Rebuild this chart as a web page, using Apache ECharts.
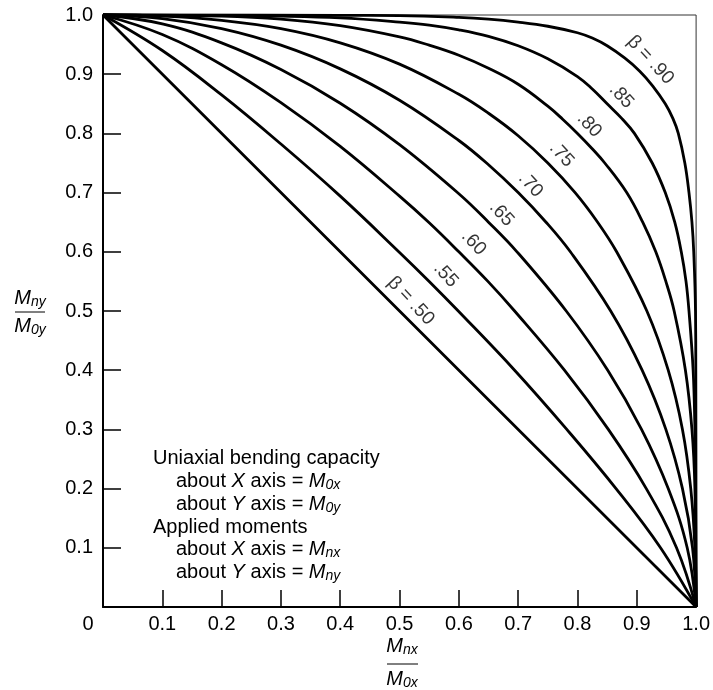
<!DOCTYPE html>
<html><head><meta charset="utf-8">
<script src="https://cdn.jsdelivr.net/npm/echarts@6/dist/echarts.min.js"></script>
<style>html,body{margin:0;padding:0;background:#fff}#c{width:713px;height:690px}</style>
</head><body><div id="c"></div>
<script>
// Curve values (x = Mnx/M0x, y = Mny/M0y)
const curve50 = [[0,1],[0.5,0.5],[1,0]];
const curve55 = [[0,1],[0.1,0.94],[0.2,0.865],[0.3,0.782],[0.4,0.694],[0.5,0.599],[0.55,0.55],[0.599,0.5],[0.694,0.4],[0.782,0.3],[0.865,0.2],[0.94,0.1],[1,0]];
const curve60 = [[0,1],[0.1,0.967],[0.2,0.916],[0.3,0.852],[0.4,0.778],[0.5,0.694],[0.55,0.649],[0.6,0.6],[0.649,0.55],[0.694,0.5],[0.778,0.4],[0.852,0.3],[0.916,0.2],[0.967,0.1],[1,0]];
const curve65 = [[0,1],[0.1,0.985],[0.2,0.953],[0.3,0.908],[0.4,0.851],[0.5,0.781],[0.6,0.698],[0.65,0.65],[0.698,0.6],[0.781,0.5],[0.851,0.4],[0.908,0.3],[0.953,0.2],[0.985,0.1],[1,0]];
const curve70 = [[0,1],[0.1,0.994],[0.2,0.977],[0.3,0.949],[0.4,0.909],[0.5,0.856],[0.6,0.788],[0.65,0.747],[0.7,0.7],[0.747,0.65],[0.788,0.6],[0.856,0.5],[0.909,0.4],[0.949,0.3],[0.977,0.2],[0.994,0.1],[1,0]];
const curve75 = [[0,1],[0.1,0.998],[0.2,0.991],[0.3,0.977],[0.4,0.953],[0.5,0.917],[0.6,0.866],[0.65,0.834],[0.7,0.796],[0.75,0.75],[0.796,0.7],[0.834,0.65],[0.866,0.6],[0.917,0.5],[0.953,0.4],[0.977,0.3],[0.991,0.2],[0.998,0.1],[1,0]];
const curve80 = [[0,1],[0.1,0.999],[0.2,0.998],[0.3,0.993],[0.4,0.982],[0.5,0.963],[0.55,0.949],[0.6,0.932],[0.65,0.91],[0.7,0.883],[0.75,0.846],[0.775,0.824],[0.8,0.8],[0.824,0.775],[0.846,0.75],[0.883,0.7],[0.91,0.65],[0.932,0.6],[0.949,0.55],[0.963,0.5],[0.982,0.4],[0.993,0.3],[0.998,0.2],[0.999,0.1],[1,0]];
const curve85 = [[0,1],[0.2,0.999],[0.3,0.998],[0.4,0.995],[0.5,0.988],[0.55,0.983],[0.6,0.975],[0.65,0.964],[0.7,0.948],[0.75,0.926],[0.8,0.896],[0.825,0.875],[0.85,0.85],[0.875,0.825],[0.896,0.8],[0.926,0.75],[0.948,0.7],[0.964,0.65],[0.975,0.6],[0.983,0.55],[0.988,0.5],[0.995,0.4],[0.998,0.3],[0.999,0.2],[1,0]];
const curve90 = [[0,1],[0.4,0.9995],[0.5,0.999],[0.6,0.996],[0.65,0.993],[0.7,0.988],[0.75,0.981],[0.8,0.97],[0.825,0.961],[0.85,0.948],[0.88,0.927],[0.905,0.905],[0.927,0.88],[0.948,0.85],[0.961,0.825],[0.97,0.8],[0.981,0.75],[0.988,0.7],[0.993,0.65],[0.996,0.6],[0.999,0.5],[0.9995,0.4],[1,0]];

const curveNames = ['β = .50','.55','.60','.65','.70','.75','.80','.85','β = .90'];
const labelX = [0.519,0.578,0.625,0.672,0.721,0.773,0.820,0.874,0.923];
const labelY = [0.517,0.561,0.615,0.664,0.713,0.764,0.814,0.863,0.924];

const axisMin = 0, axisMax = 1, axisStep = 0.1;

const allCurves = [curve50,curve55,curve60,curve65,curve70,curve75,curve80,curve85,curve90];
const FONT = '"Liberation Sans", Arial, Helvetica, sans-serif';
const FS = 20;

const chart = echarts.init(document.getElementById('c'));

const lineSeries = allCurves.map((d, i) => ({
  type: 'line', name: curveNames[i], data: d, showSymbol: false, smooth: 0.4,
  lineStyle: { color: '#000', width: 2.8 }, silent: true, clip: false, z: 3
}));

const labelSeries = {
  type: 'scatter', symbolSize: 1, itemStyle: { color: 'rgba(0,0,0,0)' }, silent: true, z: 5,
  data: labelX.map((x, i) => ({ value: [x, labelY[i]], name: curveNames[i] })),
  label: { show: true, position: 'inside', formatter: '{b}', rotate: -47,
    fontSize: 19, color: '#000', fontFamily: FONT }
};

const rich = {
  n: { fontSize: FS, fontFamily: FONT, color: '#000' },
  i: { fontSize: FS, fontFamily: FONT, fontStyle: 'italic', color: '#000' },
  s: { fontSize: 14, fontFamily: FONT, fontStyle: 'italic', color: '#000', padding: [9, 0, 0, 0] }
};
function txt(x, y, text, align) {
  return { type: 'text', x: x, y: y, z: 10,
    style: { text: text, rich: rich, font: FS + 'px ' + FONT, fill: '#000', align: align || 'left', verticalAlign: 'middle' } };
}

const option = {
  animation: false,
  backgroundColor: '#fff',
  grid: { left: 103, right: 16, top: 15, bottom: 83, show: true, borderColor: '#333', borderWidth: 1 },
  xAxis: {
    type: 'value', min: axisMin, max: axisMax, interval: axisStep,
    axisLine: { show: true, onZero: false, lineStyle: { color: '#000', width: 2 } },
    axisTick: { show: true, inside: true, length: 17, lineStyle: { color: '#000', width: 1.5 } },
    splitLine: { show: false },
    axisLabel: { fontSize: FS, color: '#000', fontFamily: FONT, margin: 7,
      formatter: v => v === 0 ? '{z|0}' : v.toFixed(1),
      rich: { z: { fontSize: FS, color: '#000', fontFamily: FONT, padding: [0, 30, 0, 0] } } }
  },
  yAxis: {
    type: 'value', min: axisMin, max: axisMax, interval: axisStep,
    axisLine: { show: true, onZero: false, lineStyle: { color: '#000', width: 2 } },
    axisTick: { show: true, inside: true, length: 18, lineStyle: { color: '#000', width: 1.5 } },
    splitLine: { show: false },
    axisLabel: { fontSize: FS, color: '#000', fontFamily: FONT, margin: 10, showMinLabel: false,
      formatter: v => v.toFixed(1) }
  },
  series: lineSeries.concat([labelSeries]),
  graphic: [
    // y-axis title fraction
    txt(30, 298, '{i|M}{s|ny}', 'center'),
    { type: 'line', shape: { x1: 15, y1: 312, x2: 45, y2: 312 }, style: { stroke: '#000', lineWidth: 1 } },
    txt(30, 326, '{i|M}{s|0y}', 'center'),
    // x-axis title fraction
    txt(402, 646, '{i|M}{s|nx}', 'center'),
    { type: 'line', shape: { x1: 387, y1: 664, x2: 418, y2: 664 }, style: { stroke: '#000', lineWidth: 1 } },
    txt(402, 679, '{i|M}{s|0x}', 'center'),
    // notes
    txt(153, 458, '{n|Uniaxial bending capacity}'),
    txt(176, 481, '{n|about }{i|X}{n| axis = }{i|M}{s|0x}'),
    txt(176, 504, '{n|about }{i|Y}{n| axis = }{i|M}{s|0y}'),
    txt(153, 527, '{n|Applied moments}'),
    txt(176, 549, '{n|about }{i|X}{n| axis = }{i|M}{s|nx}'),
    txt(176, 572, '{n|about }{i|Y}{n| axis = }{i|M}{s|ny}')
  ]
};
chart.setOption(option);
</script>
</body></html>
